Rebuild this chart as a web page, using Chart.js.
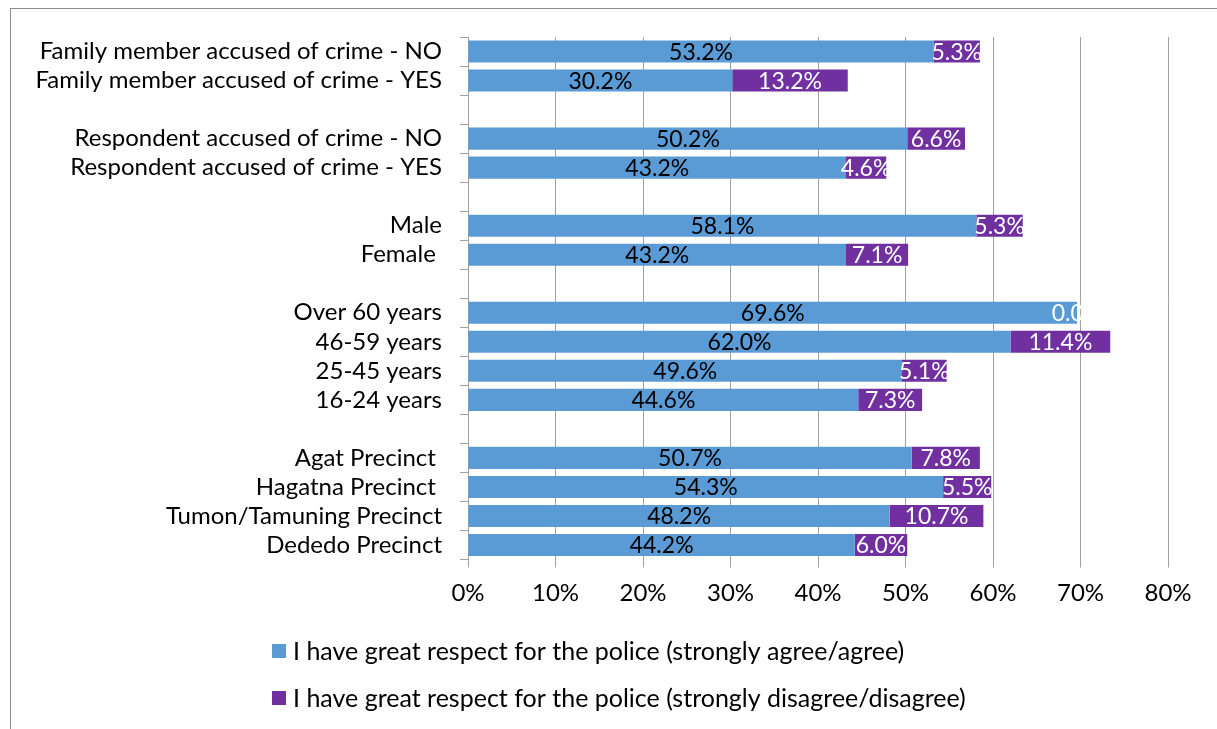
<!DOCTYPE html>
<html>
<head>
<meta charset="utf-8">
<script src="https://cdn.jsdelivr.net/npm/chart.js@4/dist/chart.umd.min.js"></script>
<style>
  html, body { margin: 0; padding: 0; background: #fff; }
  #wrap { width: 1217px; height: 729px; position: relative; }
</style>
</head>
<body>
<div id="wrap"><canvas id="respectChart" width="1217" height="729"></canvas></div>
<script>
// Rows top to bottom; blank labels are spacer rows between groups
const categories = [
  'Family member accused of crime - NO',
  'Family member accused of crime - YES',
  '',
  'Respondent accused of crime - NO',
  'Respondent accused of crime - YES',
  '',
  'Male',
  'Female ',
  '',
  'Over 60 years',
  '46-59 years',
  '25-45 years',
  '16-24 years',
  '',
  'Agat Precinct ',
  'Hagatna Precinct ',
  'Tumon/Tamuning Precinct',
  'Dededo Precinct'
];
const agreeValues    = [53.2, 30.2, null, 50.2, 43.2, null, 58.1, 43.2, null, 69.6, 62.0, 49.6, 44.6, null, 50.7, 54.3, 48.2, 44.2];
const disagreeValues = [5.3, 13.2, null, 6.6, 4.6, null, 5.3, 7.1, null, 0.0, 11.4, 5.1, 7.3, null, 7.8, 5.5, 10.7, 6.0];
const xTicks = [0, 10, 20, 30, 40, 50, 60, 70, 80];
const seriesNames = [
  'I have great respect for the police (strongly agree/agree)',
  'I have great respect for the police (strongly disagree/disagree)'
];

const BLUE = '#5B9BD5';
const PURPLE = '#7030A0';
const GRID = '#a0a0a0';
const FONT = 'Lato, "Open Sans", sans-serif';
const SIZE = 24;

// value text in the middle of each bar segment
const segmentLabels = {
  id: 'segmentLabels',
  afterDatasetsDraw(chart) {
    const ctx = chart.ctx;
    ctx.save();
    ctx.font = (SIZE - 1) + 'px ' + FONT;
    ctx.textAlign = 'center';
    ctx.textBaseline = 'middle';
    chart.data.datasets.forEach((ds, i) => {
      const meta = chart.getDatasetMeta(i);
      meta.data.forEach((bar, j) => {
        const v = ds.data[j];
        if (v === null || v === undefined) return;
        const p = bar.getProps(['x', 'y', 'base'], true);
        ctx.fillStyle = ds.labelColor;
        ctx.fillText(v.toFixed(1) + '%', (p.x + p.base) / 2, p.y + 1);
      });
    });
    ctx.restore();
  }
};

// outer frame and stacked legend block under the axis
const frameAndLegend = {
  id: 'frameAndLegend',
  beforeDraw(chart) {
    const ctx = chart.ctx;
    ctx.save();
    ctx.fillStyle = '#fff';
    ctx.fillRect(0, 0, chart.width, chart.height);
    ctx.strokeStyle = '#8c8c8c';
    ctx.lineWidth = 1;
    ctx.strokeRect(10.5, 8.5, chart.width + 20, chart.height + 20);
    ctx.restore();
  },
  afterDraw(chart) {
    const ctx = chart.ctx;
    ctx.save();
    ctx.font = (SIZE + 1) + 'px ' + FONT;
    ctx.textBaseline = 'middle';
    ctx.textAlign = 'left';
    chart.data.datasets.forEach((ds, i) => {
      const y = 651 + i * 47;
      ctx.fillStyle = ds.backgroundColor;
      ctx.fillRect(272, y - 7, 14, 14);
      ctx.fillStyle = '#000';
      ctx.fillText(ds.label, 293, y + 1);
    });
    ctx.restore();
  }
};

new Chart(document.getElementById('respectChart'), {
  type: 'bar',
  data: {
    labels: categories,
    datasets: [
      { label: seriesNames[0], data: agreeValues, backgroundColor: BLUE, labelColor: '#000' },
      { label: seriesNames[1], data: disagreeValues, backgroundColor: PURPLE, labelColor: '#fff' }
    ]
  },
  options: {
    indexAxis: 'y',
    responsive: false,
    animation: false,
    events: [],
    layout: { padding: { top: 37, right: 49, left: 0, bottom: 0 } },
    datasets: { bar: { barPercentage: 0.76, categoryPercentage: 1.0 } },
    scales: {
      x: {
        stacked: true,
        min: 0,
        max: 80,
        afterBuildTicks: s => { s.ticks = xTicks.map(v => ({ value: v })); },
        afterFit: s => { s.height = 169.5; },
        grid: { color: GRID, lineWidth: 1, drawTicks: true, tickLength: 8 },
        border: { display: false },
        ticks: {
          color: '#000',
          font: { family: FONT, size: SIZE },
          padding: 11,
          maxRotation: 0,
          callback: v => v + '%'
        }
      },
      y: {
        stacked: true,
        afterFit: s => { s.width = 468; },
        grid: { drawOnChartArea: false, drawTicks: true, tickLength: 8, color: GRID, offset: true },
        border: { display: true, color: GRID },
        ticks: {
          color: '#000',
          font: { family: FONT, size: SIZE },
          padding: 18,
          autoSkip: false
        }
      }
    },
    plugins: {
      legend: { display: false },
      tooltip: { enabled: false }
    }
  },
  plugins: [frameAndLegend, segmentLabels]
});
</script>
</body>
</html>
